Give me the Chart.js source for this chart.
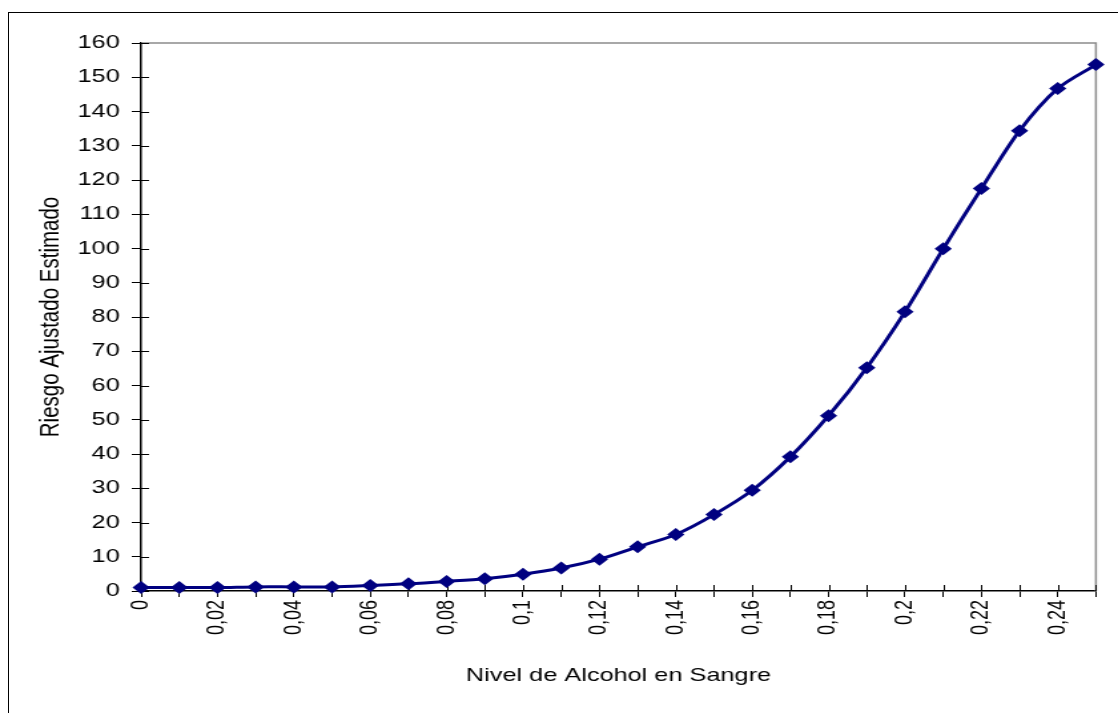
<!DOCTYPE html>
<html>
<head>
  <meta charset="utf-8">
  <title>Riesgo Ajustado Estimado</title>
  <script src="https://cdn.jsdelivr.net/npm/chart.js"></script>
  <style>
    * { margin: 0; padding: 0; box-sizing: border-box; }
    html, body { width: 1118px; height: 713px; overflow: hidden; background: #fff; }
    #marco {
      position: absolute; left: 8px; top: 12px;
      width: 1130px; height: 720px;
      border: 1px solid #000;
    }
    #envoltura {
      position: absolute; left: 0; top: 0;
      width: 840px; height: 713px;
      transform: scaleX(1.331);
      transform-origin: 0 0;
    }
  </style>
</head>
<body>
  <div id="marco"></div>
  <div id="envoltura">
    <canvas id="grafico" width="840" height="713"></canvas>
  </div>

  <script>
    // datos
    const nivelAlcohol = ['0', '0,01', '0,02', '0,03', '0,04', '0,05', '0,06', '0,07', '0,08', '0,09',
      '0,1', '0,11', '0,12', '0,13', '0,14', '0,15', '0,16', '0,17', '0,18', '0,19',
      '0,2', '0,21', '0,22', '0,23', '0,24', '0,25'];
    const riesgo = [1, 1, 1, 1.2, 1.2, 1.2, 1.6, 2.1, 2.8, 3.6,
      4.9, 6.7, 9.3, 12.9, 16.5, 22.3, 29.4, 39.2, 51.2, 65.2,
      81.5, 99.9, 117.5, 134.4, 146.7, 153.7];
    const tituloX = 'Nivel de Alcohol en Sangre';
    const tituloY = 'Riesgo Ajustado Estimado';

    const fuente = "'Liberation Sans', Arial, sans-serif";

    // marcas que cruzan el eje + borde gris arriba y a la derecha
    const marcasCruzadas = {
      id: 'marcasCruzadas',
      beforeDatasetsDraw(chart) {
        const c = chart.ctx, a = chart.chartArea;
        const x = chart.scales.x, y = chart.scales.y;
        c.save();
        c.strokeStyle = '#8c8c8c';
        c.lineWidth = 1.5;
        c.beginPath();
        c.moveTo(a.left, a.top);
        c.lineTo(a.right, a.top);
        c.lineTo(a.right, a.bottom);
        c.stroke();
        c.strokeStyle = '#000';
        c.lineWidth = 1;
        c.beginPath();
        y.ticks.forEach((t, i) => {
          const py = Math.round(y.getPixelForTick(i)) + 0.5;
          c.moveTo(a.left, py);
          c.lineTo(a.left + 6, py);
        });
        x.ticks.forEach((t, i) => {
          const px = Math.round(x.getPixelForTick(i)) + 0.5;
          c.moveTo(px, a.bottom);
          c.lineTo(px, a.bottom - 6);
        });
        c.stroke();
        c.restore();
      }
    };

    const ctx = document.getElementById('grafico').getContext('2d');
    new Chart(ctx, {
      type: 'line',
      data: {
        labels: nivelAlcohol,
        datasets: [{
          data: riesgo,
          borderColor: '#000080',
          backgroundColor: '#000080',
          borderWidth: 3,
          tension: 0.3,
          pointStyle: 'rectRot',
          pointRadius: 6.5,
          pointBorderWidth: 0,
          clip: false,
          fill: false
        }]
      },
      options: {
        responsive: false,
        animation: false,
        layout: { padding: { left: 22, top: 43, right: 16.6, bottom: 22 } },
        plugins: { legend: { display: false }, tooltip: { enabled: false } },
        scales: {
          x: {
            offset: false,
            grid: { drawOnChartArea: false, tickLength: 6, color: '#000', lineWidth: 1 },
            border: { color: '#000', width: 1.5 },
            ticks: {
              autoSkip: false,
              maxRotation: 90,
              minRotation: 90,
              padding: 3,
              color: '#000',
              font: { family: fuente, size: 18 },
              callback: (v, i) => (i % 2 === 0 ? nivelAlcohol[i] : '')
            },
            title: {
              display: true,
              text: tituloX,
              color: '#000',
              font: { family: fuente, size: 19 }
            },
            afterFit(s) { s.height = 100; s.paddingLeft = 0; s.paddingRight = 0; }
          },
          y: {
            min: 0,
            max: 160,
            grid: { drawOnChartArea: false, tickLength: 7, color: '#000', lineWidth: 1 },
            border: { color: '#000', width: 1.5 },
            ticks: {
              stepSize: 10,
              padding: 9,
              color: '#000',
              font: { family: fuente, size: 19 }
            },
            title: {
              display: true,
              text: tituloY,
              color: '#000',
              font: { family: fuente, size: 20.5 }
            },
            afterFit(s) { s.width = 84; s.paddingTop = 0; s.paddingBottom = 0; }
          }
        }
      },
      plugins: [marcasCruzadas]
    });
  </script>
</body>
</html>
